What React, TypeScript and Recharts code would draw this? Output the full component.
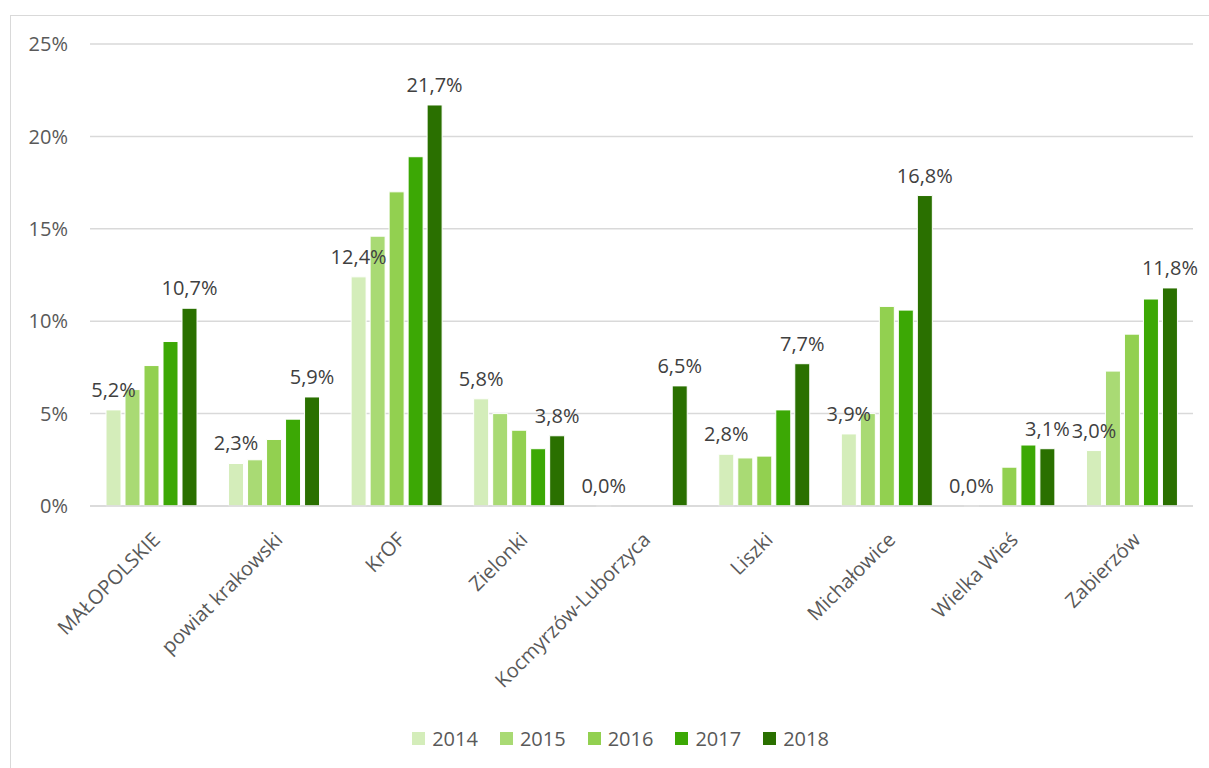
import { BarChart, Bar, XAxis, YAxis, CartesianGrid, Legend, LabelList } from "recharts";

const categories = [
  "MAŁOPOLSKIE",
  "powiat krakowski",
  "KrOF",
  "Zielonki",
  "Kocmyrzów-Luborzyca",
  "Liszki",
  "Michałowice",
  "Wielka Wieś",
  "Zabierzów",
];
const years = ["2014", "2015", "2016", "2017", "2018"];
const v2014 = [5.2, 2.3, 12.4, 5.8, 0.0, 2.8, 3.9, 0.0, 3.0];
const v2015 = [6.3, 2.5, 14.6, 5.0, null, 2.6, 5.0, null, 7.3];
const v2016 = [7.6, 3.6, 17.0, 4.1, null, 2.7, 10.8, 2.1, 9.3];
const v2017 = [8.9, 4.7, 18.9, 3.1, null, 5.2, 10.6, 3.3, 11.2];
const v2018 = [10.7, 5.9, 21.7, 3.8, 6.5, 7.7, 16.8, 3.1, 11.8];
const yTicks = [0, 5, 10, 15, 20, 25];

const colors = ["#D4EDBA", "#A9DA74", "#92D050", "#3CA805", "#2A7000"];
const series = [v2014, v2015, v2016, v2017, v2018];

const data = categories.map((name, i) => {
  const row: Record<string, string | number | null> = { name };
  years.forEach((y, k) => {
    row[y] = series[k][i];
  });
  return row;
});

const FONT = "'Open Sans', sans-serif";
const FS = 20;
const fmt = (v: any) => (v == null ? "" : Number(v).toFixed(1).replace(".", ",") + "%");

const XTick = (props: any) => {
  const { x, y, payload } = props;
  const ax = x + 10;
  const ay = y + 27;
  return (
    <text
      x={ax}
      y={ay}
      textAnchor="end"
      fill="#595959"
      fontSize={FS}
      fontFamily={FONT}
      transform={`rotate(-45, ${ax}, ${ay})`}
    >
      {payload.value}
    </text>
  );
};

// value labels, drawn for zero-height bars as well
const BarLabel = (props: any) => {
  const { x, y, width, value } = props;
  if (value == null) return null;
  return (
    <text
      x={Number(x) + Number(width) / 2}
      y={Number(y) - 13}
      textAnchor="middle"
      fill="#404040"
      fontSize={FS}
      fontFamily={FONT}
    >
      {fmt(value)}
    </text>
  );
};

const LegendContent = () => (
  <div
    style={{
      display: "flex",
      justifyContent: "center",
      gap: 22,
      fontFamily: FONT,
      fontSize: FS,
      color: "#595959",
      transform: "translate(19px, 7px)",
    }}
  >
    {years.map((y, k) => (
      <div key={y} style={{ display: "flex", alignItems: "center" }}>
        <span style={{ display: "inline-block", width: 13, height: 13, background: colors[k], marginRight: 7 }} />
        <span>{y}</span>
      </div>
    ))}
  </div>
);

export default function App() {
  return (
    <div style={{ position: "absolute", left: 0, top: 0, width: 1209, height: 768, background: "#fff", overflow: "hidden" }}>
      <div style={{ position: "absolute", left: 0, top: 0 }}>
        <BarChart
          width={1209}
          height={768}
          data={data}
          margin={{ top: 44, right: 16, left: 10, bottom: 10 }}
          barCategoryGap={16}
          barGap={4}
        >
          <CartesianGrid vertical={false} stroke="#D9D9D9" strokeWidth={1.5} />
          <XAxis
            dataKey="name"
            interval={0}
            height={212}
            tick={<XTick />}
            tickLine={false}
            axisLine={{ stroke: "#D9D9D9", strokeWidth: 1.5 }}
          />
          <YAxis
            width={80}
            domain={[0, 25]}
            ticks={yTicks}
            tickFormatter={(v) => v + "%"}
            tick={{ fill: "#595959", fontSize: FS, fontFamily: FONT }}
            tickLine={false}
            axisLine={false}
            tickSize={20}
          />
          <Legend verticalAlign="bottom" height={40} content={<LegendContent />} />
          {years.map((y, k) => (
            <Bar
              key={y}
              dataKey={y}
              fill={colors[k]}
              stroke="#fff"
              strokeWidth={1}
              minPointSize={k === 0 ? 0.01 : 0}
              isAnimationActive={false}
            >
              {(k === 0 || k === 4) && <LabelList dataKey={y} content={<BarLabel />} />}
            </Bar>
          ))}
        </BarChart>
      </div>
      <div
        style={{
          position: "absolute",
          left: 10,
          top: 15,
          width: 1220,
          height: 780,
          border: "1px solid #D9D9D9",
          pointerEvents: "none",
        }}
      />
    </div>
  );
}
